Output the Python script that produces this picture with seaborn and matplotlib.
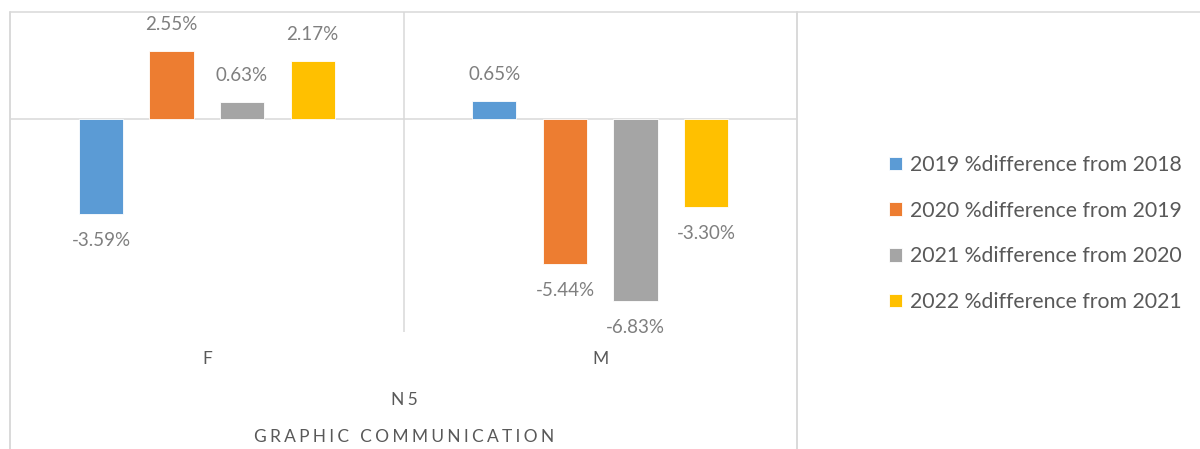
import numpy as np
import pandas as pd
import matplotlib
matplotlib.use('Agg')
import matplotlib.pyplot as plt
from matplotlib.lines import Line2D
import seaborn as sns

# 数据
genders = ['F', 'M']
series = ['2019 %difference from 2018', '2020 %difference from 2019',
          '2021 %difference from 2020', '2022 %difference from 2021']
values_2019 = [-3.59, 0.65]
values_2020 = [2.55, -5.44]
values_2021 = [0.63, -6.83]
values_2022 = [2.17, -3.30]
level_label = 'N5'
subject_label = 'GRAPHIC COMMUNICATION'

colors = ['#5B9BD5', '#ED7D31', '#A5A5A5', '#FFC000']
grid_color = '#D9D9D9'

rows = []
for name, vals in zip(series, [values_2019, values_2020, values_2021, values_2022]):
    for g, v in zip(genders, vals):
        rows.append({'gender': g, 'series': name, 'value': v})
df = pd.DataFrame(rows)

sns.set_theme(style='white')
plt.rcParams['font.family'] = ['Lato', 'DejaVu Sans']

W, H = 1200, 449
fig = plt.figure(figsize=(W / 100, H / 100), dpi=100)
ax = fig.add_axes([10 / W, 1 - 332 / H, 787 / W, 320 / H])

sns.barplot(data=df, x='gender', y='value', hue='series', hue_order=series,
            order=genders, palette=colors, saturation=1, width=0.717, gap=0.375,
            edgecolor='white', linewidth=0.6, ax=ax)

ax.set_xlim(-0.5, 1.5)
ax.set_ylim(-8, 4)
for s in ax.spines.values():
    s.set_visible(False)
ax.set_yticks([])
ax.set_xlabel('')
ax.set_ylabel('')
ax.tick_params(axis='x', length=0, pad=14, labelsize=12.5, labelcolor='#595959')

# 网格线
ax.axhline(0, color=grid_color, lw=1.1, zorder=0)
ax.axvline(0.5, color=grid_color, lw=1.1, zorder=0)
for x in [10, 797]:
    fig.add_artist(Line2D([x / W, x / W], [0, 1 - 12 / H], color=grid_color, lw=1.4))
fig.add_artist(Line2D([10 / W, 1], [1 - 12 / H, 1 - 12 / H], color=grid_color, lw=1.1))

# 数据标签
for cont in ax.containers:
    for bar, v in zip(cont, cont.datavalues):
        x = bar.get_x() + bar.get_width() / 2
        off = 19 if v >= 0 else -19
        ax.annotate(f'{v:.2f}%', (x, v), xytext=(0, off), textcoords='offset points',
                    ha='center', va='center', fontsize=13.5, color='#7F7F7F')

# 多级分类标签
track = '\u2009\u200a'
fig.text(404 / W, 1 - 400 / H, track.join(level_label), ha='center', va='center',
         fontsize=12.5, color='#595959', family=['Lato', 'DejaVu Sans'])
fig.text(404 / W, 1 - 437 / H, track.join(subject_label), ha='center', va='center',
         fontsize=12.5, color='#595959', family=['Lato', 'DejaVu Sans'])

# 图例
handles, labels = ax.get_legend_handles_labels()
ax.get_legend().remove()
fig.legend(handles, labels, loc='center left', bbox_to_anchor=(889 / W, 1 - 233.5 / H),
           frameon=False, fontsize=15.3, labelcolor='#595959', borderpad=0,
           borderaxespad=0, handlelength=0.62, handleheight=0.62,
           handletextpad=0.35, labelspacing=1.21)

fig.savefig('out.png', dpi=100)
